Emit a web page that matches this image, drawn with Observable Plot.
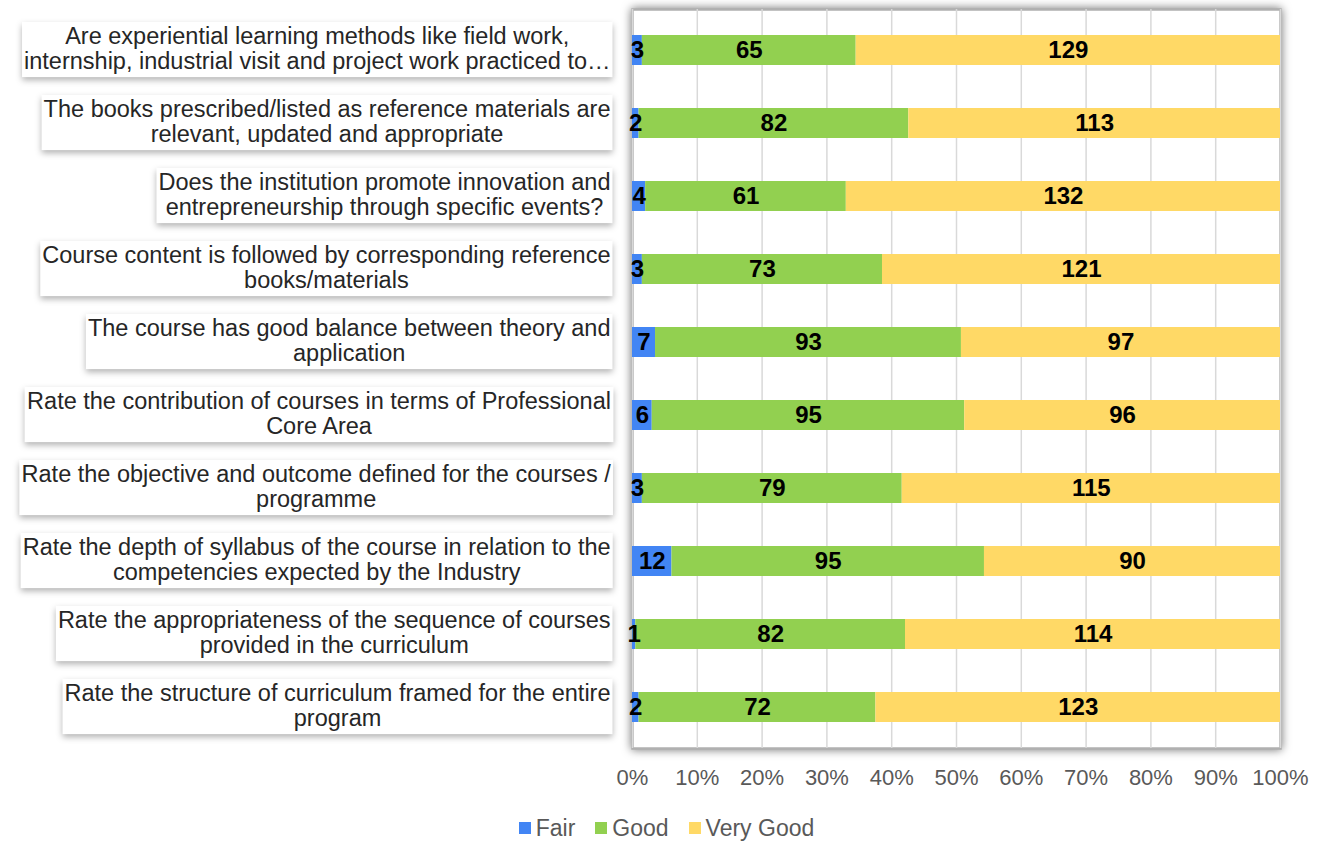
<!DOCTYPE html>
<html>
<head>
<meta charset="utf-8">
<script src="https://cdn.jsdelivr.net/npm/d3@7"></script>
<script src="https://cdn.jsdelivr.net/npm/@observablehq/plot@0.6"></script>
<style>
  html, body { margin: 0; padding: 0; background: #fff; }
  body { width: 1327px; height: 841px; overflow: hidden; font-family: "Liberation Sans", Arial, sans-serif; }
  #legend { display: flex; justify-content: center; align-items: center; gap: 20px; font-size: 23px; color: #595959; height: 28px; line-height: 28px; padding-left: 6px; margin-top: 14px; }
  #legend .item { display: flex; align-items: center; gap: 5px; }
  #legend .sw { width: 12px; height: 12px; display: inline-block; }
</style>
</head>
<body>
<div id="chart"></div>
<div id="legend"></div>
<script>
const categories = [
  "Are experiential learning methods like field work,\ninternship, industrial visit and project work practiced to…",
  "The books prescribed/listed as reference materials are\nrelevant, updated and appropriate",
  "Does the institution promote innovation and\nentrepreneurship through specific events?",
  "Course content is followed by corresponding reference\nbooks/materials",
  "The course has good balance between theory and\napplication",
  "Rate the contribution of courses in terms of Professional\nCore Area",
  "Rate the objective and outcome defined for the courses /\nprogramme",
  "Rate the depth of syllabus of the course in relation to the\ncompetencies expected by the Industry",
  "Rate the appropriateness of the sequence of courses\nprovided in the curriculum",
  "Rate the structure of curriculum framed for the entire\nprogram"
];
const fair     = [3, 2, 4, 3, 7, 6, 3, 12, 1, 2];
const good     = [65, 82, 61, 73, 93, 95, 79, 95, 82, 72];
const veryGood = [129, 113, 132, 121, 97, 96, 115, 90, 114, 123];
const seriesNames = ["Fair", "Good", "Very Good"];
const seriesColors = ["#4285F4", "#92D050", "#FFD966"];
const xTicks = [0, 0.1, 0.2, 0.3, 0.4, 0.5, 0.6, 0.7, 0.8, 0.9, 1];

const seriesValues = [fair, good, veryGood];
const data = [];
categories.forEach((q, i) => {
  seriesNames.forEach((s, j) => data.push({q, s, v: seriesValues[j][i]}));
});

const stackOpts = {offset: "normalize", order: seriesNames};

const plot = Plot.plot({
  width: 1327,
  height: 800,
  marginLeft: 632,
  marginRight: 47,
  marginTop: 9,
  marginBottom: 52,
  style: {fontFamily: "'Liberation Sans', Arial, sans-serif", background: "transparent"},
  x: {domain: [0, 1], axis: null},
  y: {domain: categories, paddingInner: 0.59, paddingOuter: 0.295, axis: null},
  color: {domain: seriesNames, range: seriesColors},
  marks: [
    Plot.frame({fill: "white", stroke: "#b0b0b0", strokeWidth: 2.5}),
    Plot.gridX({ticks: xTicks, stroke: "#d9d9d9", strokeOpacity: 1, strokeWidth: 1.5}),
    Plot.barX(data, Plot.stackX({...stackOpts, x: "v", y: "q", z: "s", fill: "s"})),
    Plot.text(data, Plot.stackX({...stackOpts, x: "v", y: "q", z: "s", text: d => String(d.v), fill: "black", fontSize: 24, fontWeight: "bold"})),
    Plot.axisX({ticks: xTicks, tickFormat: d3.format(".0%"), tickSize: 0, tickPadding: 21, fontSize: 22, color: "#595959", label: null}),
    Plot.axisY({tickSize: 0, tickPadding: 22, fontSize: 23.5, lineHeight: 1.07, dy: -2, color: "#262626", tickFormat: d => d, label: null})
  ]
});
document.getElementById("chart").appendChild(plot);

// shadow around the plot frame
const frameEl = plot.querySelector('[aria-label="frame"]');
if (frameEl) frameEl.setAttribute("style", "filter: drop-shadow(0px 0px 5px rgba(0,0,0,0.55));");

// center multi-line tick labels and add shadowed label boxes
const yTexts = plot.querySelectorAll('g[aria-label="y-axis tick label"] text');
yTexts.forEach(t => {
  const b = t.getBBox();
  const cx = b.x + b.width / 2;
  const tspans = t.querySelectorAll("tspan");
  t.setAttribute("text-anchor", "middle");
  if (tspans.length) tspans.forEach(ts => ts.setAttribute("x", cx));
  else t.setAttribute("x", cx);
  const rect = document.createElementNS("http://www.w3.org/2000/svg", "rect");
  rect.setAttribute("x", b.x - 2);
  rect.setAttribute("y", b.y - 1);
  rect.setAttribute("width", b.width + 4);
  rect.setAttribute("height", b.height + 4);
  rect.setAttribute("fill", "white");
  rect.setAttribute("stroke", "none");
  rect.setAttribute("style", "filter: drop-shadow(0px 3px 3px rgba(0,0,0,0.3));");
  if (t.getAttribute("transform")) rect.setAttribute("transform", t.getAttribute("transform"));
  t.parentNode.insertBefore(rect, t);
});

const legend = document.getElementById("legend");
seriesNames.forEach((s, i) => {
  const item = document.createElement("div");
  item.className = "item";
  item.innerHTML = `<span class="sw" style="background:${seriesColors[i]}"></span><span>${s}</span>`;
  legend.appendChild(item);
});
</script>
</body>
</html>
